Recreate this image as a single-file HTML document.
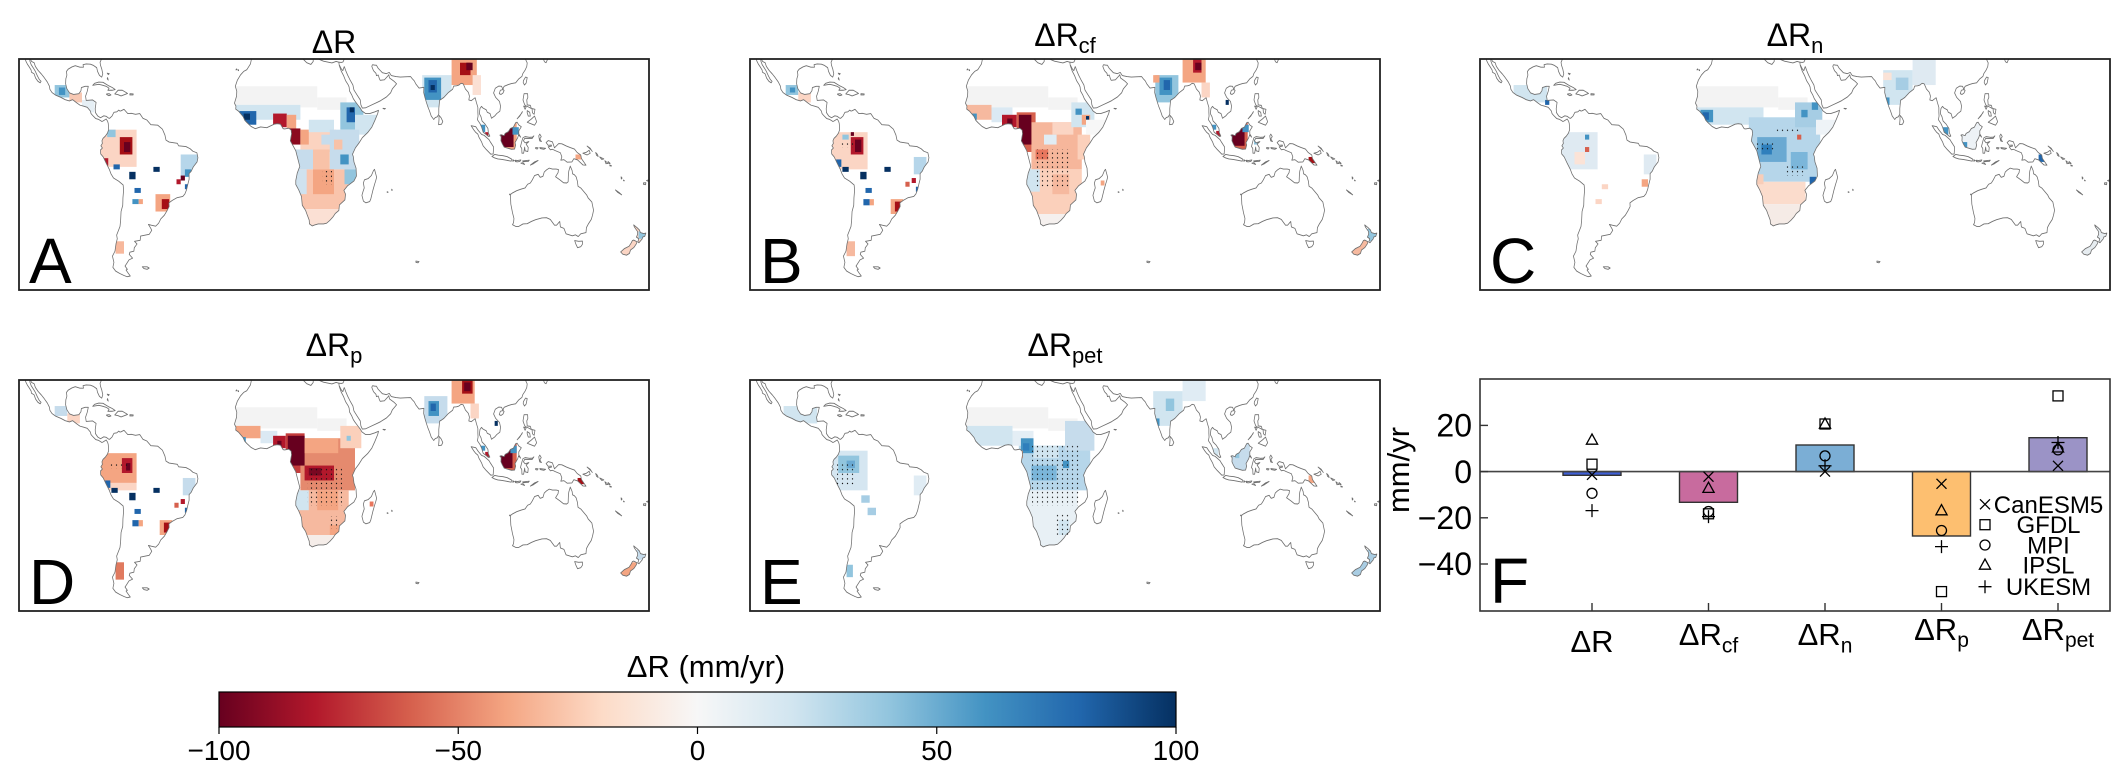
<!DOCTYPE html>
<html><head><meta charset="utf-8">
<style>
html,body{margin:0;padding:0;background:#fff;width:2126px;height:783px;overflow:hidden;}
svg{display:block;}
text{font-family:"Liberation Sans",Arial,sans-serif;fill:#000;}
</style></head><body>
<svg width="2126" height="783" viewBox="0 0 2126 783" xmlns="http://www.w3.org/2000/svg" xmlns:xlink="http://www.w3.org/1999/xlink">
<defs>
<clipPath id="pc"><rect x="0" y="0" width="630" height="231"/></clipPath>
<clipPath id="land">
<polygon points="-114.6,32.5 -114.0,31.5 -112.8,31.0 -112.2,29.5 -110.9,27.9 -109.4,26.5 -108.0,25.0 -106.5,23.2 -105.5,21.5 -105.3,20.3 -104.3,19.0 -102.5,17.9 -100,17 -98,16.1 -96,15.6 -94.5,16.1 -92.5,14.8 -91,13.9 -89,13.4 -87.5,13.0 -86,11.5 -85.7,10.5 -85.0,9.8 -83.5,8.5 -82.2,8.2 -80.5,7.3 -80.0,7.5 -78.5,8.3 -77.8,7.4 -77.5,6.5 -77.3,4.0 -77.9,2.6 -78.9,1.4 -80.0,0.5 -80.5,-0.5 -80.3,-1.5 -81.0,-2.5 -80.3,-3.4 -81.2,-4.2 -81.1,-5.8 -79.9,-7.0 -78.5,-9.5 -77.0,-12.0 -76.2,-13.8 -75.0,-15.5 -72.5,-16.8 -70.4,-18.3 -70.2,-20.5 -70.5,-23.5 -70.6,-26.5 -71.4,-29.0 -71.6,-32.5 -71.9,-35 -72.8,-37 -73.5,-38.5 -73.2,-40 -73.8,-42 -74.3,-45 -75.5,-47 -74.8,-49.5 -75.3,-51.5 -74.0,-53 -72.0,-54 -70,-54.8 -68.5,-55.3 -67,-55 -68.3,-53.5 -69,-52.6 -68.4,-52.3 -69.5,-51 -68.9,-50.2 -67.6,-48.5 -65.9,-47.8 -67.5,-46.3 -67.2,-45.4 -65.3,-45.0 -65.1,-43.6 -64.4,-42.8 -63.8,-42.1 -65.0,-41.0 -62.3,-40.6 -62.1,-38.9 -58.0,-38.2 -56.8,-36.6 -57.3,-35.7 -58.4,-34.2 -57.0,-34.5 -54.9,-34.9 -53.5,-33.7 -52.5,-32.0 -50.8,-30.5 -49.6,-28.8 -48.5,-27 -48.6,-25.5 -47,-24.5 -44.7,-23.4 -42,-22.9 -41,-21.9 -40.2,-20.2 -39.6,-18.0 -39.0,-16.0 -39.0,-13.7 -38.0,-12.8 -37.0,-11.0 -35.2,-9.0 -34.8,-7.3 -35.3,-5.3 -37.2,-4.7 -38.5,-3.7 -40.5,-2.8 -44,-2.5 -44.6,-1.5 -48.5,-1.0 -50,-0.2 -50.5,1.8 -51.7,4.2 -53.9,5.8 -57.2,6.0 -59.1,7.9 -61,8.6 -62.5,10.5 -64.5,10.2 -66.5,10.6 -68.2,10.5 -70,12.2 -71.4,11.6 -71.9,11.5 -72.5,11.9 -73.4,11.2 -74.8,11.0 -75.7,9.5 -76.8,8.6 -77.4,8.7 -78.5,9.4 -79.6,9.6 -81.2,8.8 -82.5,9.5 -83.6,10.9 -83.7,12.5 -83.3,15 -85,16 -88,15.8 -88.3,17.5 -87.5,19.5 -87,21.5 -88.5,21.5 -90.3,21.0 -90.5,19.7 -91.5,18.5 -94,18.2 -95.9,18.8 -97.2,20.5 -97.8,22.5 -97.7,24.5 -97.2,26.0 -97.4,27.5 -96.6,28.4 -94.8,29.3 -93.2,29.8 -91,29.2 -89.3,29.2 -89.5,30.2 -88,30.5 -86,30.4 -84.5,29.9 -83,29 -82.6,27.5 -81.7,25.9 -80.6,25.2 -80.1,26.5 -80.6,28.5 -81.2,30 -81.4,31.2 -80.8,32.3 -80.5,32.5"/>
<polygon points="-9.3,32.5 -9.8,30.5 -11.5,28.2 -13,27.5 -14.5,26.1 -16,24 -17,21.5 -16.3,19.5 -16.4,17.5 -17.4,14.7 -16.7,13.5 -16.8,12.3 -15.5,11.5 -14.5,10.5 -13.3,9.3 -12.5,7.8 -11.5,6.9 -9.5,5.3 -7.5,4.4 -5,5.1 -2,4.8 0,5.6 1.5,6.2 3,6.4 4.5,6.2 5.8,4.4 6.5,4.3 8.5,4.6 9.6,3.8 9.8,2.3 9.5,1.0 9.2,-0.5 10.5,-2.5 11.8,-4.5 12.3,-6.2 13,-8.5 13.7,-10.8 12.5,-13.5 11.8,-16.5 11.8,-18.1 13.2,-20.3 14.5,-22.9 14.9,-26.5 16.5,-28.6 17.3,-30.5 18.2,-32.5 18.3,-34.0 19.6,-34.8 20.8,-34.4 22.5,-34 25,-34 26.5,-33.7 28,-32.6 29.5,-31.2 30.6,-29.8 32.3,-28.6 32.6,-26.3 32.9,-26.1 35.2,-24.3 35.5,-22 34.7,-20.5 36.5,-18.6 39.5,-16.7 40.7,-14.7 40.5,-11.5 39.5,-9 39.2,-6.9 38.8,-5.9 40.2,-3.3 41.8,-1.5 43.5,0.8 46,2.8 48,5 49.5,7.8 50.8,10.5 51.2,11.8 49.5,11.2 47,10.5 45,10.5 43.3,11.6 42.6,12.6 41.5,13.8 40,15.5 39.2,16.5 38.4,18.1 37.4,19.6 37.2,21.2 36.8,22 35.5,23.8 34.5,25.9 33.5,27.5 32.5,29.9 32.3,31.2 31,31.5 29,30.9 25,31.6 22.5,32.5"/>
<polygon points="48.3,32.5 48.3,30.2 49.5,30 50.2,30 51,28.8 53,27 55,26.6 56.3,27.1 57.3,25.8 59.5,25.4 61.6,25.2 63.8,25.3 66.5,25.4 67.2,24.6 68.2,23.7 69,22.4 70.5,20.8 72.8,21.1 72.7,19 73.3,17 74,15 74.7,13.2 75.5,11.5 76.3,9.5 77.5,8.1 78.2,8.9 79.2,9.2 79.9,10.3 79.9,12.5 80.3,15.9 81.3,16.4 82.3,17 84.5,19 86.5,20.3 87,21.6 88.3,21.7 89.5,22 90.5,22.7 91.5,22.5 92.3,21 92.5,20.5 94,19 94.5,17.5 94.2,16.0 95.4,15.7 97.2,16.9 97.8,15 98.5,13 98.5,11 98.6,9.5 98.3,8 99.5,6.5 100.3,5 101,3 102.5,2 103.5,1.3 104.2,1.4 103.5,2.8 103.3,4.5 102,6.2 100.5,7.5 100,9.2 99.2,10.5 99.5,12.5 100.2,13.4 101,12.7 102.5,12 103,11 104.3,10.5 105,8.6 106.5,9.5 107.5,10.5 109,11.5 109.3,13.5 108.8,15.4 107,17 106,18.8 106.8,20.7 108.5,21.6 109.8,21.5 110.4,20.3 111,21.5 113,22.2 114.5,22.6 116.5,22.9 118,24.5 119.5,25.5 119.9,26.6 121,28 121.8,29.5 122,30.9 121.3,32.2 120.9,32.5"/>
<polygon points="109,1.8 109.6,1.2 109.5,-0.5 110.2,-1.8 111,-3 112.5,-3.4 114.5,-3.9 116,-3.8 116.5,-2.2 116.2,-1.2 117.5,0.8 117.9,1.9 118.9,1 118,2.3 118,3.5 119.2,5.2 118,5.9 117.2,7 116.5,6.8 116,6 115.4,5 114,4.5 113,3.2 111.5,2.5 111,1.6 109.6,2"/>
<polygon points="95.3,5.6 97.5,5.2 98.7,3.7 100.3,2.1 101.5,1.7 103.8,0 104.5,-1 106,-3 105.8,-5.8 104.7,-5.9 102.5,-4 101,-2.5 100.2,-0.8 99,1 98.5,2.2 97.5,2.9 96.5,4"/>
<polygon points="105.2,-6.8 106.5,-6 108.3,-6.3 110.5,-6.5 112.5,-6.9 114.5,-7.8 114.4,-8.7 112,-8.3 110,-8 108,-7.8 106.5,-7.4"/>
<polygon points="119.5,-5.5 119.4,-3.5 118.8,-2.8 119.5,-0.5 120,0.8 121,1.2 123,0.9 124.5,1 125.2,1.5 124.3,0.4 123,0.4 120.8,0.5 120.2,-0.5 121,-1.3 122.8,-0.8 121.5,-1.8 122.5,-3.2 122.3,-4.8 121,-4.5 120.8,-3 120.3,-5.5"/>
<polygon points="131,-1.2 132,-0.4 134,-0.9 135,-3.3 137,-1.6 138.5,-1.7 140.7,-2.6 142.5,-3.2 144.5,-3.8 145.8,-5.2 147.5,-6.2 147.8,-7.5 148.2,-8.1 150,-10.3 148.5,-10.2 146,-8.2 144.2,-7.7 143.3,-9 141,-9.1 139.5,-8.1 138,-8.3 138.5,-7 137.8,-5.3 135.5,-4.5 134,-3.9 133,-4.1 132,-2.9 133.6,-2.6 133.5,-2.2 132,-2.3"/>
<polygon points="172.7,-34.4 174.3,-35.5 175.5,-36.5 175.9,-37.5 177.5,-37.9 178.5,-37.7 178,-39 177,-39.3 176.8,-40 175.2,-41.6 174.7,-41.3 175.1,-40 174,-39.3 174.6,-38.2 174.5,-37 173,-35.2"/>
<polygon points="172.7,-40.5 174.3,-41.2 174,-42 172.8,-43.5 171.2,-44.5 170.7,-45.9 169.3,-46.6 167.5,-46.2 166.5,-45.3 168.2,-44 170.5,-43 171.5,-41.7 172.1,-40.7"/>
<polygon points="49.3,-12 50.3,-15.2 49.8,-16.8 49.4,-17.8 48.5,-20.5 47.5,-24 47,-25 45.2,-25.5 44,-24.8 43.3,-22.5 43.8,-21 44.4,-19.5 44,-17.5 44.5,-16.2 46.3,-15.7 47.8,-14.5 48.8,-12.5"/>
<polygon points="79.8,6 80,8 80,9.8 81,8.8 81.8,7.3 81.2,6.2"/>
</clipPath>

<g id="coast" fill="none" stroke="#6e6e6e" stroke-width="0.36" stroke-linejoin="round">
<polyline points="-117.1,32.5 -116.7,31.6 -116.0,30.4 -115.2,29.4 -114.2,28.0 -114.1,27.2 -112.8,26.5 -112.1,24.8 -111.0,23.5 -109.9,22.9 -109.5,23.5 -110.3,24.2 -111.3,25.8 -112.2,27.5 -113.2,28.9 -114.2,30.2 -114.8,31.6 -114.9,32.5"/>
<polyline points="-114.6,32.5 -114.0,31.5 -112.8,31.0 -112.2,29.5 -110.9,27.9 -109.4,26.5 -108.0,25.0 -106.5,23.2 -105.5,21.5 -105.3,20.3 -104.3,19.0 -102.5,17.9 -100,17 -98,16.1 -96,15.6 -94.5,16.1 -92.5,14.8 -91,13.9 -89,13.4 -87.5,13.0 -86,11.5 -85.7,10.5 -85.0,9.8 -83.5,8.5 -82.2,8.2 -80.5,7.3 -80.0,7.5 -78.5,8.3 -77.8,7.4 -77.5,6.5 -77.3,4.0 -77.9,2.6 -78.9,1.4 -80.0,0.5 -80.5,-0.5 -80.3,-1.5 -81.0,-2.5 -80.3,-3.4 -81.2,-4.2 -81.1,-5.8 -79.9,-7.0 -78.5,-9.5 -77.0,-12.0 -76.2,-13.8 -75.0,-15.5 -72.5,-16.8 -70.4,-18.3 -70.2,-20.5 -70.5,-23.5 -70.6,-26.5 -71.4,-29.0 -71.6,-32.5 -71.9,-35 -72.8,-37 -73.5,-38.5 -73.2,-40 -73.8,-42 -74.3,-45 -75.5,-47 -74.8,-49.5 -75.3,-51.5 -74.0,-53 -72.0,-54 -70,-54.8 -68.5,-55.3 -67,-55 -68.3,-53.5 -69,-52.6 -68.4,-52.3 -69.5,-51 -68.9,-50.2 -67.6,-48.5 -65.9,-47.8 -67.5,-46.3 -67.2,-45.4 -65.3,-45.0 -65.1,-43.6 -64.4,-42.8 -63.8,-42.1 -65.0,-41.0 -62.3,-40.6 -62.1,-38.9 -58.0,-38.2 -56.8,-36.6 -57.3,-35.7 -58.4,-34.2 -57.0,-34.5 -54.9,-34.9 -53.5,-33.7 -52.5,-32.0 -50.8,-30.5 -49.6,-28.8 -48.5,-27 -48.6,-25.5 -47,-24.5 -44.7,-23.4 -42,-22.9 -41,-21.9 -40.2,-20.2 -39.6,-18.0 -39.0,-16.0 -39.0,-13.7 -38.0,-12.8 -37.0,-11.0 -35.2,-9.0 -34.8,-7.3 -35.3,-5.3 -37.2,-4.7 -38.5,-3.7 -40.5,-2.8 -44,-2.5 -44.6,-1.5 -48.5,-1.0 -50,-0.2 -50.5,1.8 -51.7,4.2 -53.9,5.8 -57.2,6.0 -59.1,7.9 -61,8.6 -62.5,10.5 -64.5,10.2 -66.5,10.6 -68.2,10.5 -70,12.2 -71.4,11.6 -71.9,11.5 -72.5,11.9 -73.4,11.2 -74.8,11.0 -75.7,9.5 -76.8,8.6 -77.4,8.7 -78.5,9.4 -79.6,9.6 -81.2,8.8 -82.5,9.5 -83.6,10.9 -83.7,12.5 -83.3,15 -85,16 -88,15.8 -88.3,17.5 -87.5,19.5 -87,21.5 -88.5,21.5 -90.3,21.0 -90.5,19.7 -91.5,18.5 -94,18.2 -95.9,18.8 -97.2,20.5 -97.8,22.5 -97.7,24.5 -97.2,26.0 -97.4,27.5 -96.6,28.4 -94.8,29.3 -93.2,29.8 -91,29.2 -89.3,29.2 -89.5,30.2 -88,30.5 -86,30.4 -84.5,29.9 -83,29 -82.6,27.5 -81.7,25.9 -80.6,25.2 -80.1,26.5 -80.6,28.5 -81.2,30 -81.4,31.2 -80.8,32.3 -80.5,32.5"/>
<polygon points="-84.9,21.9 -84,22.7 -82,23.2 -80,23.1 -77.5,21.8 -75.6,21.0 -74.2,20.2 -75.5,19.9 -77.7,19.9 -77.1,20.7 -78.5,21.5 -80.5,22 -82,22.3 -83.5,22.1"/>
<polygon points="-74.4,18.4 -72.8,19.9 -70.8,19.9 -69,19.0 -68.3,18.6 -69.5,18.2 -71.4,17.6 -72.8,18.1"/>
<polygon points="-78.3,18.4 -77,18.5 -76.2,18.0 -77.2,17.7 -78.3,18.2"/>
<polygon points="-67.2,18.5 -65.6,18.4 -65.7,18.0 -67.2,18.0"/>
<polygon points="-78,26.8 -77,26.6 -77.5,26.2"/>
<polygon points="-77.8,25 -77.5,24 -78,24.5"/>
<polygon points="-61.3,-51.3 -59,-51.3 -58,-51.8 -59,-52.3 -60.5,-52"/>
<polyline points="-9.3,32.5 -9.8,30.5 -11.5,28.2 -13,27.5 -14.5,26.1 -16,24 -17,21.5 -16.3,19.5 -16.4,17.5 -17.4,14.7 -16.7,13.5 -16.8,12.3 -15.5,11.5 -14.5,10.5 -13.3,9.3 -12.5,7.8 -11.5,6.9 -9.5,5.3 -7.5,4.4 -5,5.1 -2,4.8 0,5.6 1.5,6.2 3,6.4 4.5,6.2 5.8,4.4 6.5,4.3 8.5,4.6 9.6,3.8 9.8,2.3 9.5,1.0 9.2,-0.5 10.5,-2.5 11.8,-4.5 12.3,-6.2 13,-8.5 13.7,-10.8 12.5,-13.5 11.8,-16.5 11.8,-18.1 13.2,-20.3 14.5,-22.9 14.9,-26.5 16.5,-28.6 17.3,-30.5 18.2,-32.5 18.3,-34.0 19.6,-34.8 20.8,-34.4 22.5,-34 25,-34 26.5,-33.7 28,-32.6 29.5,-31.2 30.6,-29.8 32.3,-28.6 32.6,-26.3 32.9,-26.1 35.2,-24.3 35.5,-22 34.7,-20.5 36.5,-18.6 39.5,-16.7 40.7,-14.7 40.5,-11.5 39.5,-9 39.2,-6.9 38.8,-5.9 40.2,-3.3 41.8,-1.5 43.5,0.8 46,2.8 48,5 49.5,7.8 50.8,10.5 51.2,11.8 49.5,11.2 47,10.5 45,10.5 43.3,11.6 42.6,12.6 41.5,13.8 40,15.5 39.2,16.5 38.4,18.1 37.4,19.6 37.2,21.2 36.8,22 35.5,23.8 34.5,25.9 33.5,27.5 32.5,29.9 32.3,31.2 31,31.5 29,30.9 25,31.6 22.5,32.5"/>
<polyline points="20.1,32.5 20.1,31.5 19,30.3 17,31 15.5,32.3 15.2,32.5"/>
<polyline points="32.3,31.2 33.5,31.1 34.3,31.3 34.9,32.5"/>
<polyline points="32.6,30 33.5,28.5 34.2,27.8 34.6,28.8 34.9,29.5"/>
<polyline points="34.9,29.5 35.5,28 36.5,26 37.5,24.3 39,22 39.5,20 41,18 42.5,16 42.8,14 43.5,12.7 45,12.8 48,14 51,15.2 52.2,15.7 55,17.2 57,18.9 57.8,20.5 59.8,22.5 58.5,23.6 56.4,24.9 56.1,26.2 55.5,25.5 54,24.1 52,23.9 51.6,24.6 51.1,26 50.2,25.8 50,26.7 48.8,27.8 48,29.5 48.3,30.2"/>
<polyline points="48.3,30.2 49.5,30 50.2,30 51,28.8 53,27 55,26.6 56.3,27.1 57.3,25.8 59.5,25.4 61.6,25.2 63.8,25.3 66.5,25.4 67.2,24.6 68.2,23.7 69,22.4 70.5,20.8 72.8,21.1 72.7,19 73.3,17 74,15 74.7,13.2 75.5,11.5 76.3,9.5 77.5,8.1 78.2,8.9 79.2,9.2 79.9,10.3 79.9,12.5 80.3,15.9 81.3,16.4 82.3,17 84.5,19 86.5,20.3 87,21.6 88.3,21.7 89.5,22 90.5,22.7 91.5,22.5 92.3,21 92.5,20.5 94,19 94.5,17.5 94.2,16.0 95.4,15.7 97.2,16.9 97.8,15 98.5,13 98.5,11 98.6,9.5 98.3,8 99.5,6.5 100.3,5 101,3 102.5,2 103.5,1.3 104.2,1.4 103.5,2.8 103.3,4.5 102,6.2 100.5,7.5 100,9.2 99.2,10.5 99.5,12.5 100.2,13.4 101,12.7 102.5,12 103,11 104.3,10.5 105,8.6 106.5,9.5 107.5,10.5 109,11.5 109.3,13.5 108.8,15.4 107,17 106,18.8 106.8,20.7 108.5,21.6 109.8,21.5 110.4,20.3 111,21.5 113,22.2 114.5,22.6 116.5,22.9 118,24.5 119.5,25.5 119.9,26.6 121,28 121.8,29.5 122,30.9 121.3,32.2 120.9,32.5"/>
<polygon points="53.3,12.6 54.5,12.5 54,12.3"/>
<polygon points="79.8,6 80,8 80,9.8 81,8.8 81.8,7.3 81.2,6.2"/>
<polygon points="108.7,18.5 109.5,18.2 110.5,18.8 111,19.8 110.5,20.2 109.2,19.9"/>
<polygon points="120.1,23 120.7,22 121.5,22.8 122,25 121.2,25.2 120.2,23.8"/>
<polyline points="129.7,32.5 130.2,31.4 131,31 131.6,32.2 131.8,32.5"/>
<polygon points="120,16 120.5,18.5 122.2,18.5 122.3,17 121.8,16 122,14 123.5,13.8 124,12.5 123,13 121,13.8 120.6,14.5"/>
<polygon points="122,7 124,8.3 125.5,9.5 126.5,7.2 125.5,5.8 124,6.3"/>
<polygon points="124.3,12.5 125.7,12.2 125.3,10.2 124.5,10.8"/>
<polygon points="122,11.7 123.2,11 123.5,9.5 122.5,9.5 122,10.8"/>
<polygon points="120.3,13.5 121.5,13.2 121,12.2"/>
<polygon points="117.2,8.4 119.5,10.8 119.7,11.3 118.5,9.5"/>
<polygon points="109,1.8 109.6,1.2 109.5,-0.5 110.2,-1.8 111,-3 112.5,-3.4 114.5,-3.9 116,-3.8 116.5,-2.2 116.2,-1.2 117.5,0.8 117.9,1.9 118.9,1 118,2.3 118,3.5 119.2,5.2 118,5.9 117.2,7 116.5,6.8 116,6 115.4,5 114,4.5 113,3.2 111.5,2.5 111,1.6 109.6,2"/>
<polygon points="95.3,5.6 97.5,5.2 98.7,3.7 100.3,2.1 101.5,1.7 103.8,0 104.5,-1 106,-3 105.8,-5.8 104.7,-5.9 102.5,-4 101,-2.5 100.2,-0.8 99,1 98.5,2.2 97.5,2.9 96.5,4"/>
<polygon points="105.2,-6.8 106.5,-6 108.3,-6.3 110.5,-6.5 112.5,-6.9 114.5,-7.8 114.4,-8.7 112,-8.3 110,-8 108,-7.8 106.5,-7.4"/>
<polygon points="115.1,-8.1 115.7,-8.4 115.2,-8.8"/>
<polygon points="116.1,-8.4 116.7,-8.3 116.5,-8.9"/>
<polygon points="116.9,-8.5 119,-8.2 118.5,-8.8 117,-9"/>
<polygon points="119.8,-8.6 123,-8.3 122.5,-8.8 120,-8.9"/>
<polygon points="123.5,-10.3 125.5,-9 127.2,-8.4 125,-9.7"/>
<polygon points="119,-9.5 120.8,-10 120,-9.3"/>
<polygon points="119.5,-5.5 119.4,-3.5 118.8,-2.8 119.5,-0.5 120,0.8 121,1.2 123,0.9 124.5,1 125.2,1.5 124.3,0.4 123,0.4 120.8,0.5 120.2,-0.5 121,-1.3 122.8,-0.8 121.5,-1.8 122.5,-3.2 122.3,-4.8 121,-4.5 120.8,-3 120.3,-5.5"/>
<polygon points="127.5,1.5 128,2.2 128.7,1.2 128,0.3 128.8,-0.8 127.9,-0.5"/>
<polygon points="128,-3.2 130.8,-3.5 130,-3.9 128.2,-3.6"/>
<polygon points="126,-3.2 127.2,-3.3 126.8,-3.8 126,-3.6"/>
<polygon points="131,-1.2 132,-0.4 134,-0.9 135,-3.3 137,-1.6 138.5,-1.7 140.7,-2.6 142.5,-3.2 144.5,-3.8 145.8,-5.2 147.5,-6.2 147.8,-7.5 148.2,-8.1 150,-10.3 148.5,-10.2 146,-8.2 144.2,-7.7 143.3,-9 141,-9.1 139.5,-8.1 138,-8.3 138.5,-7 137.8,-5.3 135.5,-4.5 134,-3.9 133,-4.1 132,-2.9 133.6,-2.6 133.5,-2.2 132,-2.3"/>
<polygon points="148.5,-5.5 150,-5.2 151.5,-4.3 152,-5.5 150.5,-6.2"/>
<polygon points="150.5,-2.6 152,-3.5 153,-4.8 152.5,-4.2 151,-3"/>
<polygon points="154.6,-5.2 155.5,-6 155.8,-6.8 155,-6.3"/>
<polygon points="156.5,-7 158.5,-7.8 157.5,-8"/>
<polygon points="159,-8.5 160.5,-9.6 159.5,-9.7"/>
<polygon points="160.5,-8.8 161.5,-9.6 161,-9.7"/>
<polygon points="161.3,-10.2 162.2,-10.6 161.4,-10.6"/>
<polygon points="166.7,-15 167.2,-15.5 166.8,-15.9"/>
<polygon points="167.8,-16.3 168.3,-16.6 167.9,-16.6"/>
<polygon points="164,-20.3 166,-21.5 167,-22.3 165,-21.2"/>
<polygon points="177.3,-17.5 178.5,-17.4 178.4,-18.2 177.4,-18.1"/>
<polygon points="178.8,-16.5 179.9,-16.2 179.5,-16.8"/>
<polygon points="113.5,-22 114,-22 114.2,-26 115,-29.5 115.7,-31.8 115.5,-33.5 115,-34.3 116.5,-35 118,-35 120,-34 122,-33.9 124,-33 126,-32.3 129,-31.6 131.2,-31.5 133,-32.2 135,-34.5 136,-34.5 137.5,-33 137.8,-35.2 139.5,-35.8 140.5,-38 142,-38.4 143.5,-38.8 145,-38.4 146.3,-39.1 147.5,-38 150,-37.5 150.2,-35.5 151.2,-33.9 152.5,-32.2 153.1,-30.5 153.6,-28.5 153.1,-26.5 152.8,-25.2 151,-23.5 150.3,-22.3 149,-21 147.5,-19.5 146.2,-18.8 145.9,-16.8 145.3,-15 144.5,-14.2 143.6,-13.8 143.4,-12.5 142.5,-10.7 141.8,-12.7 141.6,-14.5 141.5,-17 140.8,-17.5 139.3,-17.4 137.5,-16.2 135.5,-15 136.7,-13.3 136.9,-12.1 135.8,-11.9 134,-11.9 132.5,-11.5 131.2,-12.2 130.1,-13.1 129.5,-14.8 128.2,-15.2 127.2,-14 125.5,-14.5 124.4,-16.3 123.5,-17.5 122.2,-18 121,-19.5 119,-20 117,-20.6 115,-21.5 113.8,-22.3"/>
<polygon points="144.6,-40.7 146.5,-41 148.3,-40.9 148.3,-42.2 147.5,-43.2 146,-43.6 145.2,-42.2"/>
<polygon points="172.7,-34.4 174.3,-35.5 175.5,-36.5 175.9,-37.5 177.5,-37.9 178.5,-37.7 178,-39 177,-39.3 176.8,-40 175.2,-41.6 174.7,-41.3 175.1,-40 174,-39.3 174.6,-38.2 174.5,-37 173,-35.2"/>
<polygon points="172.7,-40.5 174.3,-41.2 174,-42 172.8,-43.5 171.2,-44.5 170.7,-45.9 169.3,-46.6 167.5,-46.2 166.5,-45.3 168.2,-44 170.5,-43 171.5,-41.7 172.1,-40.7"/>
<polygon points="49.3,-12 50.3,-15.2 49.8,-16.8 49.4,-17.8 48.5,-20.5 47.5,-24 47,-25 45.2,-25.5 44,-24.8 43.3,-22.5 43.8,-21 44.4,-19.5 44,-17.5 44.5,-16.2 46.3,-15.7 47.8,-14.5 48.8,-12.5"/>
<polygon points="57.5,-20 57.8,-20.4 57.4,-20.4"/>
<polygon points="55.3,-21 55.8,-21.2 55.3,-21.3"/>
<polygon points="69,-49 70.5,-49.2 70,-49.7 69,-49.5"/>
<polygon points="-15.5,28.2 -15.4,27.8 -15.7,27.9"/>
<polygon points="-16.5,28.5 -16.1,28.3 -16.7,28.1"/>
</g>

<linearGradient id="rdbu" x1="0" y1="0" x2="1" y2="0">
<stop offset="0" stop-color="#67001f"/>
<stop offset="0.1" stop-color="#b2182b"/>
<stop offset="0.2" stop-color="#d6604d"/>
<stop offset="0.3" stop-color="#f4a582"/>
<stop offset="0.4" stop-color="#fddbc7"/>
<stop offset="0.5" stop-color="#f7f7f7"/>
<stop offset="0.6" stop-color="#d1e5f0"/>
<stop offset="0.7" stop-color="#92c5de"/>
<stop offset="0.8" stop-color="#4393c3"/>
<stop offset="0.9" stop-color="#2166ac"/>
<stop offset="1" stop-color="#053061"/>
</linearGradient>
<pattern id="dt" width="5" height="4.6" patternUnits="userSpaceOnUse"><circle cx="2.5" cy="2.3" r="0.65" fill="#111"/></pattern>

<path id="mx" d="M-5,-5L5,5M5,-5L-5,5"/>
<rect id="ms" x="-5" y="-5" width="10" height="10"/>
<circle id="mc" cx="0" cy="0" r="5"/>
<path id="mt" d="M0,-6L5.6,4.2L-5.6,4.2Z"/>
<path id="mp" d="M-6.5,0H6.5M0,-6.5V6.5"/>
</defs>

<!-- ===== Panel A ===== -->
<g transform="translate(19,59)">
<g clip-path="url(#pc)">
<g transform="matrix(2.1 0 0 -2.48 252 80.6)">
<g clip-path="url(#land)">
<rect x="-18" y="13" width="40" height="8.5" fill="#f3f3f3"/>
<rect x="22" y="12" width="14" height="5" fill="#f3f3f3"/>
<rect x="-18" y="8" width="32" height="6" fill="#d1e5f0"/>
<rect x="-15" y="6" width="8" height="5.5" fill="#2166ac"/>
<rect x="-13" y="8" width="3" height="2.5" fill="#053061"/>
<rect x="1" y="5" width="6.5" height="5.5" fill="#b2182b"/>
<rect x="7.5" y="4" width="4.5" height="6" fill="#f4a582"/>
<rect x="14" y="-5" width="17" height="9" fill="#fbd3c0"/>
<rect x="8" y="-2" width="6" height="6.5" fill="#8b0a1f"/>
<rect x="14" y="-2" width="4" height="6" fill="#f4a582"/>
<rect x="18" y="3" width="12" height="5" fill="#d1e5f0"/>
<rect x="24" y="-2" width="7" height="4" fill="#c6dcec"/>
<rect x="9" y="-12" width="11" height="8" fill="#c6dcec"/>
<rect x="20" y="-12" width="8" height="8" fill="#f8c2a8"/>
<rect x="33" y="4" width="11" height="11" fill="#92c5de"/>
<rect x="36" y="7" width="4" height="6" fill="#2166ac"/>
<rect x="37.5" y="11" width="2" height="2" fill="#053061"/>
<rect x="40" y="2" width="12" height="8" fill="#d1e5f0"/>
<rect x="28" y="-12" width="14" height="16" fill="#c6dcec"/>
<rect x="30" y="-4" width="4" height="4" fill="#f8c2a8"/>
<rect x="33" y="-10" width="4" height="4" fill="#4393c3"/>
<rect x="10" y="-28" width="27" height="16" fill="#f9c4ac"/>
<rect x="20" y="-22" width="10" height="10" fill="#f4a582"/>
<rect x="10" y="-22" width="7" height="10" fill="#cfe2ef"/>
<rect x="35" y="-18" width="6" height="6" fill="#92c5de"/>
<rect x="15" y="-36" width="19" height="8" fill="#fbe0d4"/>
<rect x="-81" y="-11" width="17" height="15" fill="#fbd5c4"/>
<rect x="-72" y="-6" width="6" height="7" fill="#a50f15"/>
<rect x="-70" y="-5" width="3" height="4" fill="#67001f"/>
<rect x="-78" y="1" width="4" height="3" fill="#92c5de"/>
<rect x="-80" y="-10.5" width="2.5" height="3" fill="#b2182b"/>
<rect x="-75" y="-12" width="3" height="2" fill="#2166ac"/>
<rect x="-67.5" y="-16" width="3" height="3" fill="#053061"/>
<rect x="-56" y="-13" width="3" height="2" fill="#053061"/>
<rect x="-65" y="-21.5" width="3" height="2" fill="#2166ac"/>
<rect x="-66" y="-26" width="3" height="2" fill="#4393c3"/>
<rect x="-63" y="-26" width="2" height="2" fill="#f4a582"/>
<rect x="-43" y="-15" width="8" height="9" fill="#b6d6ea"/>
<rect x="-41" y="-15" width="3" height="3" fill="#4393c3"/>
<rect x="-45" y="-18" width="2" height="2" fill="#b2182b"/>
<rect x="-43" y="-16.5" width="2" height="2" fill="#67001f"/>
<rect x="-41" y="-20" width="2" height="2" fill="#2166ac"/>
<rect x="-55" y="-29" width="7" height="7" fill="#f4a582"/>
<rect x="-52" y="-28" width="3.5" height="4" fill="#a50f15"/>
<rect x="-74" y="-46" width="4" height="5" fill="#f7b89c"/>
<rect x="-103" y="17" width="7" height="5" fill="#92c5de"/>
<rect x="-101" y="18" width="3" height="3" fill="#4393c3"/>
<rect x="-96" y="15" width="6" height="4" fill="#f7c8b3"/>
<rect x="-90" y="11" width="6" height="5" fill="#e6eff5"/>
<rect x="72" y="13" width="14" height="13" fill="#d1e5f0"/>
<rect x="73" y="16" width="8" height="9" fill="#4393c3"/>
<rect x="75" y="19" width="4" height="5" fill="#2166ac"/>
<rect x="76" y="20" width="2" height="2" fill="#053061"/>
<rect x="86" y="22" width="12" height="11" fill="#f4a582"/>
<rect x="90" y="26" width="5" height="5" fill="#a50f15"/>
<rect x="93" y="28" width="3" height="3" fill="#67001f"/>
<rect x="96" y="18" width="4" height="8" fill="#fbe0d4"/>
<rect x="100" y="3" width="2" height="3" fill="#4393c3"/>
<rect x="102" y="1.5" width="1.5" height="1.5" fill="#b2182b"/>
<rect x="108" y="-4" width="9" height="11" fill="#f4a582"/>
<rect x="109.5" y="-3" width="6" height="9" fill="#67001f"/>
<rect x="115" y="2" width="3" height="3" fill="#4393c3"/>
<rect x="145" y="-8" width="3" height="2" fill="#f4a582"/>
<rect x="166" y="-47" width="13" height="13" fill="#fbd5c4"/>
<rect x="175" y="-40" width="4" height="3" fill="#92c5de"/>
</g>
<use href="#coast" xlink:href="#coast"/>
</g>
<rect x="303" y="112" width="10" height="14" fill="url(#dt)"/>
</g>
<rect x="0" y="0" width="630" height="231" fill="none" stroke="#222" stroke-width="1.8"/>
<text x="10" y="224" font-size="64">A</text>
</g>
<text x="334" y="53" font-size="32" text-anchor="middle">ΔR</text>

<!-- ===== Panel B ===== -->
<g transform="translate(750,59)">
<g clip-path="url(#pc)">
<g transform="matrix(2.1 0 0 -2.48 252 80.6)">
<g clip-path="url(#land)">
<rect x="-18" y="13" width="40" height="8.5" fill="#f3f3f3"/>
<rect x="22" y="12" width="14" height="5" fill="#f3f3f3"/>
<rect x="-18" y="8" width="13" height="6" fill="#f6b99f"/>
<rect x="-15" y="8" width="3" height="2.5" fill="#4393c3"/>
<rect x="-5" y="7" width="10" height="6" fill="#dbe9f3"/>
<rect x="0" y="5" width="7" height="5" fill="#b2182b"/>
<rect x="2.5" y="5" width="2.5" height="3.5" fill="#67001f"/>
<rect x="7" y="-5" width="9" height="16" fill="#d6604d"/>
<rect x="14" y="-12" width="24" height="19" fill="#f6b69b"/>
<rect x="8" y="-2" width="6" height="12" fill="#67001f"/>
<rect x="24" y="2" width="10" height="5" fill="#fbd5c4"/>
<rect x="20" y="-2" width="6" height="4" fill="#e0ecf4"/>
<rect x="16" y="-8" width="6" height="4" fill="#e8775e"/>
<rect x="36" y="-8" width="6" height="10" fill="#fbd0bb"/>
<rect x="33" y="5" width="11" height="10" fill="#d1e5f0"/>
<rect x="35" y="10" width="3" height="2.5" fill="#4393c3"/>
<rect x="38" y="6" width="4" height="4" fill="#f4a582"/>
<rect x="40" y="8" width="1.5" height="1.5" fill="#053061"/>
<rect x="40" y="2" width="12" height="6" fill="#f7f7f7"/>
<rect x="10" y="-30" width="28" height="18" fill="#fbd0bb"/>
<rect x="10" y="-21" width="8" height="9" fill="#d1e5f0"/>
<rect x="24" y="-22" width="8" height="8" fill="#f6b99f"/>
<rect x="15" y="-36" width="19" height="6" fill="#f5f0ee"/>
<rect x="47" y="-18.5" width="1.8" height="2" fill="#f4a582"/>
<rect x="-81" y="-12" width="17" height="15" fill="#fbd5c4"/>
<rect x="-72" y="-6" width="6" height="7" fill="#b2182b"/>
<rect x="-70" y="-5" width="3" height="5" fill="#67001f"/>
<rect x="-76" y="0" width="3" height="2" fill="#92c5de"/>
<rect x="-72" y="1.5" width="1.5" height="1.5" fill="#67001f"/>
<rect x="-79" y="-11" width="2.5" height="3" fill="#2166ac"/>
<rect x="-76" y="-13" width="3" height="2" fill="#053061"/>
<rect x="-67.5" y="-16" width="3" height="3" fill="#053061"/>
<rect x="-56" y="-13" width="3" height="2" fill="#053061"/>
<rect x="-65" y="-21.5" width="3" height="2" fill="#2166ac"/>
<rect x="-66" y="-26.5" width="3" height="2.5" fill="#2166ac"/>
<rect x="-63" y="-26.5" width="2" height="2.5" fill="#f4a582"/>
<rect x="-42" y="-14" width="6" height="7" fill="#b6d6ea"/>
<rect x="-46" y="-19" width="2" height="2" fill="#d6604d"/>
<rect x="-43" y="-17.5" width="2" height="2" fill="#b2182b"/>
<rect x="-41" y="-21" width="2" height="2" fill="#2166ac"/>
<rect x="-53" y="-30" width="6" height="6" fill="#f4a582"/>
<rect x="-51" y="-29" width="3" height="4" fill="#a50f15"/>
<rect x="-74" y="-47" width="4" height="6" fill="#f6b99f"/>
<rect x="-103" y="18" width="6" height="4" fill="#92c5de"/>
<rect x="-101" y="19" width="2.5" height="2" fill="#4393c3"/>
<rect x="-97" y="15" width="6" height="4" fill="#fbd5c4"/>
<rect x="73" y="15" width="11" height="11" fill="#92c5de"/>
<rect x="75" y="18" width="6" height="7" fill="#4393c3"/>
<rect x="77" y="20" width="3" height="4" fill="#2166ac"/>
<rect x="72" y="23" width="3" height="3" fill="#f4a582"/>
<rect x="86" y="23" width="11" height="10" fill="#f4a582"/>
<rect x="91" y="27" width="4" height="5.5" fill="#b2182b"/>
<rect x="92" y="28" width="3" height="3" fill="#67001f"/>
<rect x="95" y="17" width="4" height="6" fill="#fbd5c4"/>
<rect x="106.5" y="14" width="1.5" height="2" fill="#053061"/>
<rect x="100" y="4" width="2" height="2" fill="#4393c3"/>
<rect x="102" y="1.5" width="2" height="2" fill="#b2182b"/>
<rect x="108" y="-4" width="9" height="11" fill="#d6604d"/>
<rect x="108.5" y="-2.5" width="7" height="8" fill="#67001f"/>
<rect x="114.5" y="3" width="3" height="3" fill="#4393c3"/>
<rect x="120" y="-2" width="2" height="2" fill="#92c5de"/>
<rect x="146" y="-9.5" width="3" height="2.5" fill="#a50f15"/>
<rect x="166" y="-47" width="9" height="7" fill="#f6b99f"/>
<rect x="174" y="-41" width="5" height="5" fill="#92c5de"/>
</g>
<use href="#coast" xlink:href="#coast"/>
</g>
<rect x="284" y="90" width="36" height="40" fill="url(#dt)"/>
<rect x="90" y="84" width="15" height="5" fill="url(#dt)"/>
</g>
<rect x="0" y="0" width="630" height="231" fill="none" stroke="#222" stroke-width="1.8"/>
<text x="10" y="224" font-size="64">B</text>
</g>
<text x="1065" y="46" font-size="32" text-anchor="middle">ΔR<tspan font-size="22" dy="7">cf</tspan></text>

<!-- ===== Panel C ===== -->
<g transform="translate(1480,59)">
<g clip-path="url(#pc)">
<g transform="matrix(2.1 0 0 -2.48 252 80.6)">
<g clip-path="url(#land)">
<rect x="-18" y="13" width="40" height="8.5" fill="#f3f3f3"/>
<rect x="22" y="12" width="14" height="5" fill="#f3f3f3"/>
<rect x="-18" y="6" width="33" height="7" fill="#d1e5f0"/>
<rect x="-15" y="7" width="6" height="5" fill="#4393c3"/>
<rect x="-14" y="8" width="3" height="3" fill="#2166ac"/>
<rect x="8" y="-17" width="34" height="26" fill="#b6d6ea"/>
<rect x="12" y="-9" width="14" height="10" fill="#6aa9d2"/>
<rect x="14" y="-6" width="5" height="4" fill="#2f7fbc"/>
<rect x="28" y="-12" width="8" height="7" fill="#7bb6da"/>
<rect x="30" y="5" width="13" height="10" fill="#a6cde4"/>
<rect x="33" y="9" width="3" height="3" fill="#4393c3"/>
<rect x="38" y="12" width="3" height="3" fill="#4393c3"/>
<rect x="31" y="0" width="2" height="2" fill="#d6604d"/>
<rect x="37" y="-18" width="3" height="3" fill="#2166ac"/>
<rect x="10" y="-26" width="25" height="9" fill="#fbdccc"/>
<rect x="12" y="-18" width="3" height="4" fill="#f8cdb8"/>
<rect x="15" y="-36" width="19" height="10" fill="#f5ebe6"/>
<rect x="40" y="2" width="12" height="6" fill="#eef3f7"/>
<rect x="-81" y="-12" width="17" height="15" fill="#dfeaf2"/>
<rect x="-75" y="-10" width="5" height="5" fill="#fbe3d7"/>
<rect x="-70" y="-5" width="2" height="2" fill="#d6604d"/>
<rect x="-70" y="0" width="2" height="2" fill="#4393c3"/>
<rect x="-42" y="-14" width="6" height="8" fill="#dfeaf2"/>
<rect x="-43" y="-19" width="3" height="3" fill="#f4a582"/>
<rect x="-62" y="-20" width="3" height="2" fill="#fbd5c4"/>
<rect x="-65" y="-26" width="3" height="2" fill="#fbd5c4"/>
<rect x="-104" y="15" width="16" height="7" fill="#d1e5f0"/>
<rect x="-89" y="14" width="2" height="2" fill="#2166ac"/>
<rect x="72" y="14" width="14" height="14" fill="#d1e5f0"/>
<rect x="78" y="20" width="6" height="5" fill="#a6cde4"/>
<rect x="73" y="14" width="2" height="3" fill="#4393c3"/>
<rect x="72" y="24" width="4" height="3" fill="#fbe3d7"/>
<rect x="86" y="22" width="11" height="11" fill="#dfeaf2"/>
<rect x="100" y="2" width="3" height="3" fill="#4393c3"/>
<rect x="108" y="-4" width="10" height="11" fill="#edf2f6"/>
<rect x="110" y="-3" width="2" height="2" fill="#4393c3"/>
<rect x="146" y="-9" width="3" height="3" fill="#2166ac"/>
<rect x="166" y="-47" width="13" height="13" fill="#e6ecf0"/>
</g>
<use href="#coast" xlink:href="#coast"/>
</g>
<rect x="274" y="83" width="20" height="10" fill="url(#dt)"/>
<rect x="295" y="68" width="25" height="5" fill="url(#dt)"/>
<rect x="305" y="105" width="20" height="12" fill="url(#dt)"/>
</g>
<rect x="0" y="0" width="630" height="231" fill="none" stroke="#222" stroke-width="1.8"/>
<text x="10" y="224" font-size="64">C</text>
</g>
<text x="1795" y="46" font-size="32" text-anchor="middle">ΔR<tspan font-size="22" dy="7">n</tspan></text>

<!-- ===== Panel D ===== -->
<g transform="translate(19,380)">
<g clip-path="url(#pc)">
<g transform="matrix(2.1 0 0 -2.48 252 80.6)">
<g clip-path="url(#land)">
<rect x="-18" y="13" width="40" height="8.5" fill="#f3f3f3"/>
<rect x="22" y="12" width="14" height="5" fill="#f3f3f3"/>
<rect x="-18" y="9" width="13" height="5" fill="#f4a582"/>
<rect x="-15" y="7" width="3" height="2.5" fill="#4393c3"/>
<rect x="-5" y="7" width="8" height="5" fill="#dbe9f3"/>
<rect x="1" y="5" width="6" height="5" fill="#b2182b"/>
<rect x="3" y="5" width="2" height="3" fill="#67001f"/>
<rect x="7" y="-5" width="9" height="16" fill="#c43c3c"/>
<rect x="14" y="-12" width="26" height="21" fill="#e58a6e"/>
<rect x="8" y="-2" width="8" height="12" fill="#67001f"/>
<rect x="16" y="-8" width="14" height="6" fill="#b2182b"/>
<rect x="18" y="-6" width="6" height="3" fill="#7a0822"/>
<rect x="16" y="3" width="16" height="6" fill="#f4a582"/>
<rect x="33" y="5" width="10" height="9" fill="#fbd0bb"/>
<rect x="36" y="8" width="2" height="2" fill="#92c5de"/>
<rect x="10" y="-30" width="27" height="18" fill="#f6b99f"/>
<rect x="10" y="-20" width="8" height="8" fill="#d1e5f0"/>
<rect x="22" y="-20" width="10" height="8" fill="#f4a582"/>
<rect x="15" y="-36" width="19" height="6" fill="#f5ede9"/>
<rect x="28" y="-30" width="5" height="4" fill="#f4a582"/>
<rect x="47" y="-18.5" width="1.8" height="2" fill="#e8775e"/>
<rect x="-81" y="-9" width="17" height="12" fill="#f4a582"/>
<rect x="-71" y="-5" width="5" height="6" fill="#b2182b"/>
<rect x="-69" y="-4" width="2" height="3" fill="#67001f"/>
<rect x="-80" y="-12" width="16" height="3" fill="#fbd5c4"/>
<rect x="-79" y="-11" width="2.5" height="3" fill="#2166ac"/>
<rect x="-76" y="-13" width="3" height="2" fill="#053061"/>
<rect x="-67.5" y="-16" width="3" height="3" fill="#053061"/>
<rect x="-56" y="-13" width="3" height="2" fill="#053061"/>
<rect x="-65" y="-21.5" width="3" height="2" fill="#2166ac"/>
<rect x="-66" y="-26.5" width="3" height="2.5" fill="#2166ac"/>
<rect x="-63" y="-26.5" width="2" height="2.5" fill="#f4a582"/>
<rect x="-42" y="-14" width="6" height="7" fill="#c6dcec"/>
<rect x="-46" y="-19" width="2" height="2" fill="#d6604d"/>
<rect x="-43" y="-17.5" width="2" height="2" fill="#b2182b"/>
<rect x="-41" y="-21" width="2" height="2" fill="#2166ac"/>
<rect x="-53" y="-30" width="6" height="6" fill="#f4a582"/>
<rect x="-51" y="-29" width="3" height="4" fill="#a50f15"/>
<rect x="-74" y="-48" width="4" height="7" fill="#e07a5f"/>
<rect x="-103" y="18" width="6" height="4" fill="#c6dcec"/>
<rect x="-97" y="15" width="6" height="4" fill="#fbd5c4"/>
<rect x="73" y="15" width="11" height="11" fill="#c6dcec"/>
<rect x="75" y="18" width="5" height="6" fill="#4393c3"/>
<rect x="76" y="20" width="2.5" height="3" fill="#2166ac"/>
<rect x="86" y="23" width="11" height="10" fill="#f4a582"/>
<rect x="91" y="27" width="5" height="5.5" fill="#a50f15"/>
<rect x="92" y="28" width="3" height="3.5" fill="#67001f"/>
<rect x="95" y="17" width="4" height="6" fill="#fbd5c4"/>
<rect x="106.5" y="14" width="1.5" height="2" fill="#053061"/>
<rect x="100" y="4" width="2" height="2" fill="#4393c3"/>
<rect x="102" y="1.5" width="2" height="2" fill="#b2182b"/>
<rect x="108" y="-4" width="9" height="11" fill="#d6604d"/>
<rect x="108.5" y="-3" width="6.5" height="8" fill="#67001f"/>
<rect x="114" y="3" width="3" height="3" fill="#4393c3"/>
<rect x="146" y="-9.5" width="3" height="2.5" fill="#a50f15"/>
<rect x="166" y="-47" width="8" height="6" fill="#f4a582"/>
<rect x="174" y="-40" width="4" height="4" fill="#c6dcec"/>
</g>
<use href="#coast" xlink:href="#coast"/>
</g>
<rect x="288" y="86" width="35" height="40" fill="url(#dt)"/>
<rect x="89" y="84" width="21" height="5" fill="url(#dt)"/>
<rect x="311" y="136" width="8" height="13" fill="url(#dt)"/>
</g>
<rect x="0" y="0" width="630" height="231" fill="none" stroke="#222" stroke-width="1.8"/>
<text x="10" y="224" font-size="64">D</text>
</g>
<text x="334" y="356" font-size="32" text-anchor="middle">ΔR<tspan font-size="22" dy="7">p</tspan></text>

<!-- ===== Panel E ===== -->
<g transform="translate(750,380)">
<g clip-path="url(#pc)">
<g transform="matrix(2.1 0 0 -2.48 252 80.6)">
<g clip-path="url(#land)">
<rect x="-18" y="13" width="40" height="8.5" fill="#f3f3f3"/>
<rect x="22" y="12" width="14" height="5" fill="#f3f3f3"/>
<rect x="-18" y="6" width="23" height="8" fill="#d1e5f0"/>
<rect x="5" y="6" width="10" height="6" fill="#e4eef5"/>
<rect x="8" y="-12" width="34" height="18" fill="#b6d6ea"/>
<rect x="9" y="3" width="6" height="6" fill="#4393c3"/>
<rect x="10" y="4" width="3" height="3" fill="#2f7fbc"/>
<rect x="14" y="-8" width="12" height="6" fill="#7bb6da"/>
<rect x="29" y="-3" width="3" height="3" fill="#4393c3"/>
<rect x="15" y="1" width="12" height="5" fill="#d1e5f0"/>
<rect x="30" y="4" width="14" height="12" fill="#c6dcec"/>
<rect x="10" y="-35" width="26" height="23" fill="#e8f0f5"/>
<rect x="27" y="-30" width="5" height="6" fill="#d1e5f0"/>
<rect x="8.5" y="1" width="1.5" height="3" fill="#f4a582"/>
<rect x="-81" y="-12" width="17" height="16" fill="#d5e6f1"/>
<rect x="-78" y="-5" width="10" height="7" fill="#92c5de"/>
<rect x="-74" y="-3" width="4" height="3" fill="#6aa9d2"/>
<rect x="-67" y="-17" width="4" height="3" fill="#a6cde4"/>
<rect x="-64" y="-22" width="4" height="3" fill="#a6cde4"/>
<rect x="-42" y="-14" width="6" height="8" fill="#e0ecf4"/>
<rect x="-74" y="-47" width="3" height="5" fill="#92c5de"/>
<rect x="-104" y="15" width="16" height="7" fill="#d1e5f0"/>
<rect x="72" y="14" width="14" height="14" fill="#d1e5f0"/>
<rect x="78" y="20" width="4" height="5" fill="#92c5de"/>
<rect x="73" y="14" width="2" height="3" fill="#4393c3"/>
<rect x="86" y="24" width="11" height="9" fill="#e0ecf4"/>
<rect x="100" y="2" width="3" height="3" fill="#d1e5f0"/>
<rect x="108" y="-4" width="10" height="11" fill="#c6dcec"/>
<rect x="111" y="1" width="2" height="2" fill="#92c5de"/>
<rect x="146" y="-9" width="3" height="3" fill="#f4a582"/>
<rect x="166" y="-47" width="13" height="11" fill="#a9cde3"/>
</g>
<use href="#coast" xlink:href="#coast"/>
</g>
<rect x="282" y="63" width="49" height="63" fill="url(#dt)"/>
<rect x="87" y="83" width="19" height="23" fill="url(#dt)"/>
<rect x="305" y="133" width="14" height="23" fill="url(#dt)"/>
</g>
<rect x="0" y="0" width="630" height="231" fill="none" stroke="#222" stroke-width="1.8"/>
<text x="10" y="224" font-size="64">E</text>
</g>
<text x="1065" y="356" font-size="32" text-anchor="middle">ΔR<tspan font-size="22" dy="7">pet</tspan></text>

<!-- ===== Panel F ===== -->
<g>
<rect x="1563" y="471.6" width="58" height="3.7" fill="#3f5fd6" stroke="#333" stroke-width="1.4"/>
<rect x="1679.5" y="471.6" width="58" height="30.7" fill="#c86b9e" stroke="#333" stroke-width="1.4"/>
<rect x="1796" y="445" width="58" height="26.6" fill="#7baed5" stroke="#333" stroke-width="1.4"/>
<rect x="1912.5" y="471.6" width="58" height="64.4" fill="#fdbf70" stroke="#333" stroke-width="1.4"/>
<rect x="2029" y="437.7" width="58" height="33.9" fill="#9b93c6" stroke="#333" stroke-width="1.4"/>
<line x1="1480" y1="471.6" x2="2110" y2="471.6" stroke="#444" stroke-width="1.6"/>
<g stroke="#333" stroke-width="1.4">
<line x1="1480" y1="425.4" x2="1488" y2="425.4"/>
<line x1="1480" y1="471.6" x2="1488" y2="471.6"/>
<line x1="1480" y1="517.8" x2="1488" y2="517.8"/>
<line x1="1480" y1="564" x2="1488" y2="564"/>
<line x1="1592" y1="611" x2="1592" y2="603"/>
<line x1="1708.5" y1="611" x2="1708.5" y2="603"/>
<line x1="1825" y1="611" x2="1825" y2="603"/>
<line x1="1941.5" y1="611" x2="1941.5" y2="603"/>
<line x1="2058" y1="611" x2="2058" y2="603"/>
</g>
<g fill="none" stroke="#000" stroke-width="1.3">
<use href="#mt" xlink:href="#mt" x="1592" y="440"/>
<use href="#ms" xlink:href="#ms" x="1592" y="464.2"/>
<use href="#mx" xlink:href="#mx" x="1592" y="474.8"/>
<use href="#mc" xlink:href="#mc" x="1592" y="493.3"/>
<use href="#mp" xlink:href="#mp" x="1592" y="510.6"/>
<use href="#mx" xlink:href="#mx" x="1708.5" y="476.7"/>
<use href="#mt" xlink:href="#mt" x="1708.5" y="488.2"/>
<use href="#mc" xlink:href="#mc" x="1708.5" y="511.5"/>
<use href="#ms" xlink:href="#ms" x="1708.5" y="513.8"/>
<use href="#mp" xlink:href="#mp" x="1708.5" y="516.6"/>
<use href="#ms" xlink:href="#ms" x="1825" y="424"/>
<use href="#mt" xlink:href="#mt" x="1825" y="424"/>
<use href="#mc" xlink:href="#mc" x="1825" y="455.9"/>
<use href="#mp" xlink:href="#mp" x="1825" y="465.8"/>
<use href="#mx" xlink:href="#mx" x="1825" y="471.6"/>
<use href="#mx" xlink:href="#mx" x="1941.5" y="483.8"/>
<use href="#mt" xlink:href="#mt" x="1941.5" y="510.6"/>
<use href="#mc" xlink:href="#mc" x="1941.5" y="530.5"/>
<use href="#mp" xlink:href="#mp" x="1941.5" y="546.6"/>
<use href="#ms" xlink:href="#ms" x="1941.5" y="591.6"/>
<use href="#ms" xlink:href="#ms" x="2058" y="395.9"/>
<use href="#mp" xlink:href="#mp" x="2058" y="442.5"/>
<use href="#mt" xlink:href="#mt" x="2058" y="447.8"/>
<use href="#mc" xlink:href="#mc" x="2058" y="449.9"/>
<use href="#mx" xlink:href="#mx" x="2058" y="465.8"/>
<use href="#mx" xlink:href="#mx" x="1985" y="504.3"/>
<use href="#ms" xlink:href="#ms" x="1985" y="524.7"/>
<use href="#mc" xlink:href="#mc" x="1985" y="545"/>
<use href="#mt" xlink:href="#mt" x="1985" y="565"/>
<use href="#mp" xlink:href="#mp" x="1985" y="586.7"/>
</g>
<rect x="1480" y="379" width="630" height="232" fill="none" stroke="#333" stroke-width="1.6"/>
<g font-size="24" text-anchor="middle">
<text x="2048.5" y="512.8">CanESM5</text>
<text x="2048.5" y="533.2">GFDL</text>
<text x="2048.5" y="553.5">MPI</text>
<text x="2048.5" y="573.5">IPSL</text>
<text x="2048.5" y="595.2">UKESM</text>
</g>
<g font-size="32" text-anchor="end">
<text x="1472" y="436.6">20</text>
<text x="1472" y="482.8">0</text>
<text x="1472" y="529">−20</text>
<text x="1472" y="575.2">−40</text>
</g>
<text transform="translate(1409,470) rotate(-90)" font-size="31" text-anchor="middle">mm/yr</text>
<text x="1490" y="603" font-size="64">F</text>
<g font-size="31" text-anchor="middle">
<text x="1592" y="652">ΔR</text>
<text x="1708.5" y="645">ΔR<tspan font-size="21" dy="7.7">cf</tspan></text>
<text x="1825" y="645">ΔR<tspan font-size="21" dy="7.7">n</tspan></text>
<text x="1941.5" y="640">ΔR<tspan font-size="21" dy="7">p</tspan></text>
<text x="2058" y="640">ΔR<tspan font-size="21" dy="7">pet</tspan></text>
</g>
</g>

<!-- ===== Colorbar ===== -->
<rect x="219" y="692" width="957" height="35" fill="url(#rdbu)" stroke="#000" stroke-width="1.2"/>
<g stroke="#000" stroke-width="1.2">
<line x1="219" y1="727" x2="219" y2="734"/>
<line x1="458.25" y1="727" x2="458.25" y2="734"/>
<line x1="697.5" y1="727" x2="697.5" y2="734"/>
<line x1="936.75" y1="727" x2="936.75" y2="734"/>
<line x1="1176" y1="727" x2="1176" y2="734"/>
</g>
<g font-size="28" text-anchor="middle">
<text x="219" y="760">−100</text>
<text x="458.25" y="760">−50</text>
<text x="697.5" y="760">0</text>
<text x="936.75" y="760">50</text>
<text x="1176" y="760">100</text>
</g>
<text x="706" y="677" font-size="31" text-anchor="middle">ΔR (mm/yr)</text>
</svg>
</body></html>
